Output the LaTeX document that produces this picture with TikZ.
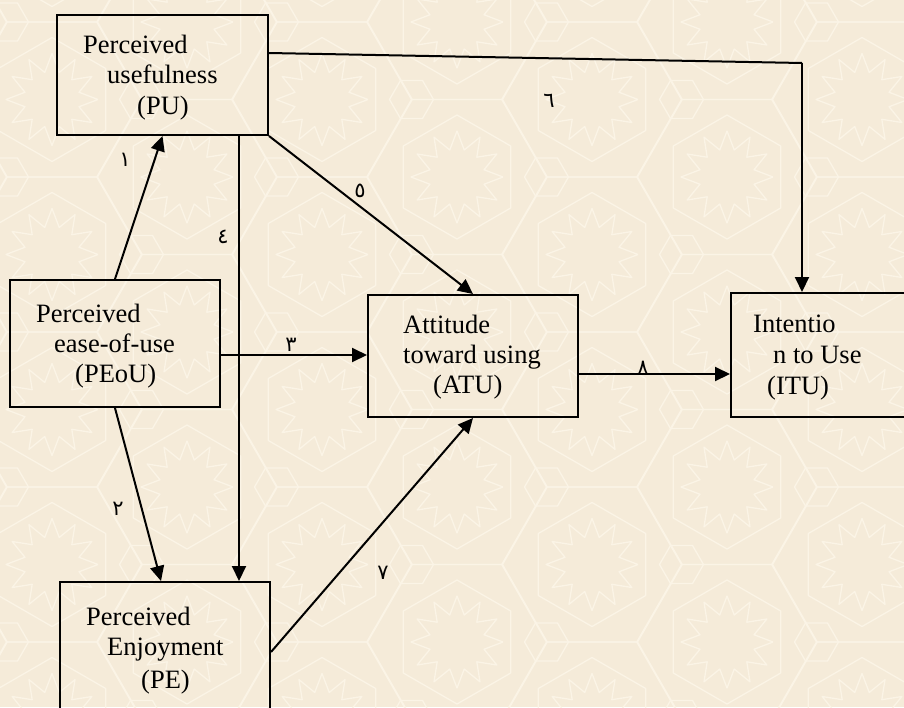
\documentclass[tikz,border=0pt]{standalone}
\usepackage{fontspec}
\setmainfont{Liberation Serif}
\newfontfamily\arabicfont[Script=Arabic]{DejaVu Sans}
\usetikzlibrary{arrows.meta,calc}
\definecolor{paper}{RGB}{245,235,217}
\definecolor{ornament}{RGB}{251,244,230}
\tikzset{
  box/.style={draw=black,line width=2pt,rectangle,inner sep=0pt,anchor=north west},
  txt/.style={inner sep=0pt,anchor=base west,font=\fontsize{26.5}{30}\selectfont},
  num/.style={inner sep=0pt,font=\arabicfont\fontsize{21}{24}\selectfont},
  link/.style={line width=2pt,draw=black},
  arr/.style={link,-{Triangle[length=15pt,width=14pt]}},
  pat/.style={draw=ornament,line width=1.3pt,line join=round}
}
\begin{document}
\begin{tikzpicture}[x=1pt,y=-1pt]
\useasboundingbox (0,0) rectangle (904,707);
\clip (0,0) rectangle (904,707);
\fill[paper] (0,0) rectangle (904,707);

% star-and-hexagon ornament on the paper
\foreach \i in {-6,...,2}{
  \foreach \j in {-4,...,2}{
    \pgfmathsetmacro\cx{727+135*\i}
    \pgfmathsetmacro\cy{487+155*\j+77.5*mod(abs(\i),2)}
    \draw[pat,shift={(\cx,\cy)}] (0:89.5) -- (60:89.5) -- (120:89.5) -- (180:89.5) -- (240:89.5) -- (300:89.5) -- cycle;
    \draw[pat,shift={(\cx,\cy)}] plot[samples at={0,15,...,360},variable=\t]
      ({(mod(\t,30)==0 ? 46 : 28)*cos(\t)},{(mod(\t,30)==0 ? 46 : 28)*sin(\t)});
    \draw[pat,shift={(\cx,\cy)}] (30:62) -- (90:62) -- (150:62) -- (210:62) -- (270:62) -- (330:62) -- cycle;
    \draw[pat,shift={(\cx,\cy)}] (0:89.5) ++(0:22) -- ++(120:22) -- ++(180:22) -- ++(240:22) -- ++(300:22) -- ++(0:22) -- cycle;
  }
}

% boxes
\node[box,minimum width=211pt,minimum height=120pt] (PU) at (56,14) {};
\node[box,minimum width=210pt,minimum height=127pt] (PEoU) at (9,279) {};
\node[box,minimum width=210pt,minimum height=122pt] (ATU) at (367,294) {};
\node[box,minimum width=200pt,minimum height=124pt] (ITU) at (730,292) {};
\node[box,minimum width=210pt,minimum height=140pt] (PE) at (59,581) {};

% box texts
\node[txt] (PU1) at (83,53) {Perceived};
\node[txt] (PU2) at (107,83) {usefulness};
\node[txt] (PU3) at (137,114) {(PU)};
\node[txt] (PEoU1) at (36,322) {Perceived};
\node[txt] (PEoU2) at (54,352) {ease-of-use};
\node[txt] (PEoU3) at (75,382) {(PEoU)};
\node[txt] (ATU1) at (403,333) {Attitude};
\node[txt] (ATU2) at (403,363) {toward using};
\node[txt] (ATU3) at (433,393) {(ATU)};
\node[txt] (ITU1) at (753,332) {Intentio};
\node[txt] (ITU2) at (773,363) {n to Use};
\node[txt] (ITU3) at (767,394) {(ITU)};
\node[txt] (PE1) at (86,625) {Perceived};
\node[txt] (PE2) at (107,655) {Enjoyment};
\node[txt] (PE3) at (141,688) {(PE)};

% connectors
\draw[arr] (PEoU.north) -- (PU.south);
\draw[arr] (PEoU.south) -- ([xshift=-4pt]PE.north);
\coordinate (PUdown) at ($(PU.south)+(76.5,0)$);
\draw[arr] (PUdown) -- (PUdown |- PE.north);
\coordinate (PEoUout) at ($(PEoU.east)+(0,11.5)$);
\draw[arr] (PEoUout) -- (PEoUout -| ATU.west);
\draw[arr] (PU.south east) -- (ATU.north);
\coordinate (PUout) at ($(PU.north east)+(0,39)$);
\coordinate (ITUin) at ($(ITU.north west)+(72,0)$);
\coordinate (ITUbend) at ($(ITUin)+(0,-229)$);
\draw[link] (PUout) -- (ITUbend);
\draw[arr] (ITUbend) -- (ITUin);
\coordinate (ATUout) at ($(ATU.east)+(0,18)$);
\draw[arr] (ATUout) -- (ATUout -| ITU.west);
\draw[arr] (PE.east) -- (ATU.south);

% path numbers
\node[num] (n1) at (125,160) {١};
\node[num] (n2) at (118,509) {٢};
\node[num] (n3) at (291,345) {٣};
\node[num] (n4) at (223,237) {٤};
\node[num] (n5) at (360,191) {٥};
\node[num] (n6) at (549,101) {٦};
\node[num] (n7) at (383,573) {٧};
\node[num] (n8) at (643,368) {٨};
\end{tikzpicture}
\end{document}
